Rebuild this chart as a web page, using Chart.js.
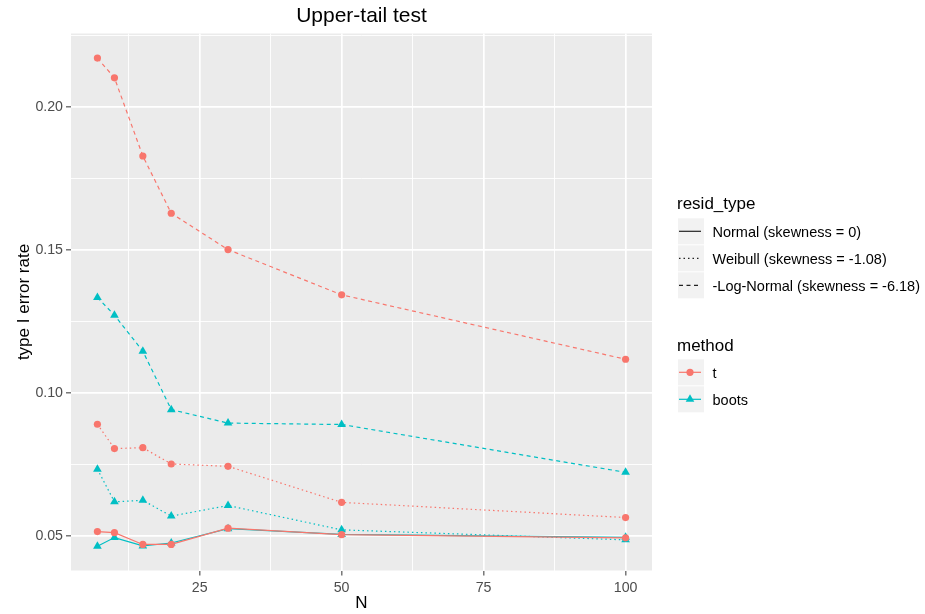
<!DOCTYPE html>
<html lang="en">
<head>
  <meta charset="UTF-8" />
  <title>Upper-tail test</title>
  <script src="https://cdn.jsdelivr.net/npm/chart.js"></script>
  <style>
    html, body { margin: 0; padding: 0; background: #fff; }
    #wrap { width: 925px; height: 614px; position: relative; }
  </style>
</head>
<body>
  <div id="wrap"><canvas id="chart"></canvas></div>

  <script>
    // sample sizes (x axis)
    const nValues = [7, 10, 15, 20, 30, 50, 100];

    // type I error rate, method t
    const tNormal    = [0.0516, 0.0512, 0.0471, 0.0471, 0.0528, 0.0505, 0.0494];
    const tWeibull   = [0.0891, 0.0806, 0.0809, 0.0752, 0.0744, 0.0618, 0.0565];
    const tLogNormal = [0.2170, 0.2101, 0.1828, 0.1628, 0.1501, 0.1343, 0.1118];

    // type I error rate, method boots
    const bootsNormal    = [0.0465, 0.0495, 0.0466, 0.0476, 0.0526, 0.0506, 0.0496];
    const bootsWeibull   = [0.0734, 0.0620, 0.0625, 0.0570, 0.0607, 0.0522, 0.0487];
    const bootsLogNormal = [0.1334, 0.1272, 0.1146, 0.0942, 0.0895, 0.0890, 0.0723];

    // ticks
    const xMajorTicks = [25, 50, 75, 100];
    const xMinorTicks = [12.5, 37.5, 62.5, 87.5];
    const yMajorTicks = [0.05, 0.10, 0.15, 0.20];
    const yMinorTicks = [0.075, 0.125, 0.175, 0.225];

    // legend entries
    const residTypes = ['Normal (skewness = 0)', 'Weibull (skewness = -1.08)', '-Log-Normal (skewness = -6.18)'];
    const methods = ['t', 'boots'];

    const RED = '#F8766D';
    const TEAL = '#00BFC4';
    const DASHES = [[], [1.5, 3], [4, 3.5]];
    const FONT = '"Liberation Sans", Arial, sans-serif';

    Chart.defaults.font.family = FONT;

    function series(values) {
      return values.map((v, i) => ({ x: nValues[i], y: v }));
    }

    function makeSet(label, values, color, dashIdx, shape) {
      return {
        label: label,
        data: series(values),
        borderColor: color,
        backgroundColor: color,
        borderWidth: 1.2,
        borderDash: DASHES[dashIdx],
        pointStyle: shape,
        pointRadius: shape === 'triangle' ? 5 : 3.6,
        pointBorderWidth: 0,
        pointBackgroundColor: color,
        tension: 0
      };
    }

    // grey panel behind the grid
    const panelBg = {
      id: 'panelBg',
      beforeDraw(chart) {
        const a = chart.chartArea;
        const ctx = chart.ctx;
        ctx.save();
        ctx.fillStyle = '#EBEBEB';
        ctx.fillRect(a.left, a.top, a.right - a.left, a.bottom - a.top);
        ctx.restore();
      }
    };

    // ggplot-like legends on the right
    const sideLegend = {
      id: 'sideLegend',
      afterDraw(chart) {
        const ctx = chart.ctx;
        const keyX = 678, keyW = 26, keyH = 26, step = 27;
        ctx.save();

        ctx.fillStyle = '#000';
        ctx.font = '17px ' + FONT;
        ctx.textBaseline = 'alphabetic';
        ctx.fillText('resid_type', 677, 208.5);

        residTypes.forEach((label, i) => {
          const top = 218.3 + i * step;
          const cy = top + keyH / 2;
          ctx.fillStyle = '#F2F2F2';
          ctx.fillRect(keyX, top, keyW, keyH);
          ctx.strokeStyle = '#222';
          ctx.lineWidth = 1.2;
          ctx.setLineDash(DASHES[i]);
          ctx.beginPath();
          ctx.moveTo(keyX + 1, cy);
          ctx.lineTo(keyX + 23, cy);
          ctx.stroke();
          ctx.setLineDash([]);
          ctx.fillStyle = '#000';
          ctx.font = '14.5px ' + FONT;
          ctx.textBaseline = 'middle';
          ctx.fillText(label, 712.5, cy + 1.5);
        });

        ctx.fillStyle = '#000';
        ctx.font = '17px ' + FONT;
        ctx.textBaseline = 'alphabetic';
        ctx.fillText('method', 677, 350.7);

        methods.forEach((label, i) => {
          const top = 359.3 + i * step;
          const cy = top + keyH / 2;
          const color = i === 0 ? RED : TEAL;
          const cx = keyX + 12;
          ctx.fillStyle = '#F2F2F2';
          ctx.fillRect(keyX, top, keyW, keyH);
          ctx.strokeStyle = color;
          ctx.lineWidth = 1.2;
          ctx.beginPath();
          ctx.moveTo(keyX + 1, cy);
          ctx.lineTo(keyX + 23, cy);
          ctx.stroke();
          ctx.fillStyle = color;
          ctx.beginPath();
          if (i === 0) {
            ctx.arc(cx, cy, 3.6, 0, Math.PI * 2);
          } else {
            ctx.moveTo(cx, cy - 5);
            ctx.lineTo(cx + 4.3, cy + 2.5);
            ctx.lineTo(cx - 4.3, cy + 2.5);
            ctx.closePath();
          }
          ctx.fill();
          ctx.fillStyle = '#000';
          ctx.font = '14.5px ' + FONT;
          ctx.textBaseline = 'middle';
          ctx.fillText(label, 712.5, cy + 1.5);
        });

        ctx.restore();
      }
    };

    function gridOpts(minors) {
      return {
        color: '#FFFFFF',
        lineWidth: c => (c.tick && minors.includes(c.tick.value)) ? 0.9 : 1.7,
        tickColor: c => (c.tick && minors.includes(c.tick.value)) ? 'rgba(0,0,0,0)' : '#333333',
        tickLength: 5,
        tickWidth: 1,
        drawTicks: true
      };
    }

    new Chart(document.getElementById('chart'), {
      type: 'line',
      data: {
        datasets: [
          makeSet('t / Normal', tNormal, RED, 0, 'circle'),
          makeSet('boots / Normal', bootsNormal, TEAL, 0, 'triangle'),
          makeSet('t / Weibull', tWeibull, RED, 1, 'circle'),
          makeSet('boots / Weibull', bootsWeibull, TEAL, 1, 'triangle'),
          makeSet('t / -Log-Normal', tLogNormal, RED, 2, 'circle'),
          makeSet('boots / -Log-Normal', bootsLogNormal, TEAL, 2, 'triangle')
        ]
      },
      options: {
        responsive: true,
        maintainAspectRatio: false,
        animation: false,
        layout: { padding: { left: 0, right: 273, top: 0, bottom: 0 } },
        plugins: {
          legend: { display: false },
          tooltip: { enabled: false },
          title: {
            display: true,
            text: 'Upper-tail test',
            fullSize: false,
            color: '#000',
            font: { size: 21, weight: 'normal' },
            padding: { top: 4, bottom: 4.3 }
          }
        },
        scales: {
          x: {
            type: 'linear',
            min: 2.35,
            max: 104.65,
            afterFit(s) { s.height = 43.5; },
            afterBuildTicks(s) {
              s.ticks = xMinorTicks.concat(xMajorTicks).sort((a, b) => a - b).map(v => ({ value: v }));
            },
            ticks: {
              autoSkip: false,
              maxRotation: 0,
              color: '#4D4D4D',
              font: { size: 14.2 },
              padding: 4.5,
              callback: v => xMajorTicks.includes(v) ? String(v) : ''
            },
            grid: gridOpts(xMinorTicks),
            border: { display: false },
            title: {
              display: true,
              text: 'N',
              color: '#000',
              font: { size: 17 },
              padding: { top: 0, bottom: 0 }
            }
          },
          y: {
            type: 'linear',
            min: 0.038,
            max: 0.2256,
            afterFit(s) { s.width = 71; },
            afterBuildTicks(s) {
              s.ticks = yMinorTicks.concat(yMajorTicks).sort((a, b) => a - b).map(v => ({ value: v }));
            },
            ticks: {
              autoSkip: false,
              color: '#4D4D4D',
              font: { size: 14.2 },
              padding: 3,
              callback: v => yMajorTicks.includes(v) ? v.toFixed(2) : ''
            },
            grid: gridOpts(yMinorTicks),
            border: { display: false },
            title: {
              display: true,
              text: 'type I error rate',
              color: '#000',
              font: { size: 17 },
              padding: { top: 14, bottom: 0 }
            }
          }
        }
      },
      plugins: [panelBg, sideLegend]
    });
  </script>
</body>
</html>
